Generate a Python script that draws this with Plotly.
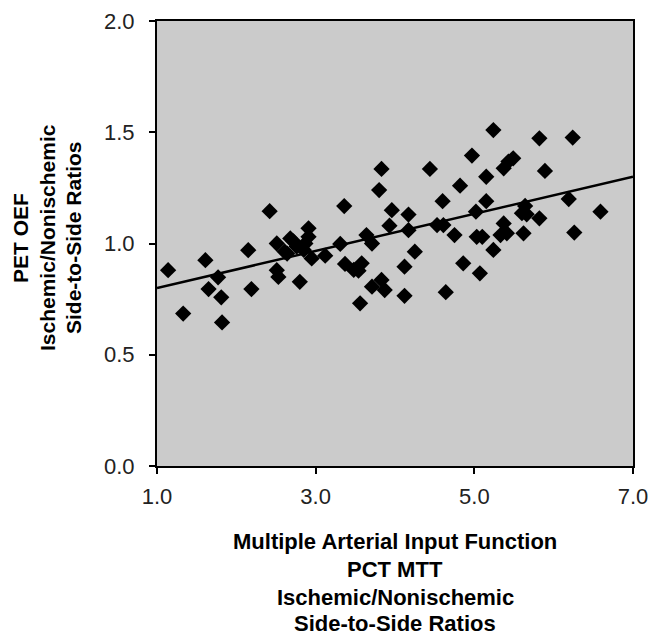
import plotly.graph_objects as go

# Scatter data
mtt_ratio = [1.14, 1.33, 1.61, 1.65, 1.77, 1.81, 1.82, 2.15, 2.19, 2.42,
             2.51, 2.51, 2.53, 2.61, 2.68, 2.64, 2.76, 2.72, 2.80, 2.85,
             2.91, 2.91, 2.87, 2.95, 3.12, 3.31, 3.36, 3.37, 3.48, 3.58,
             3.54, 3.56, 3.64, 3.71, 3.71, 3.80, 3.83, 3.83, 3.87, 3.93,
             3.96, 4.12, 4.12, 4.17, 4.17, 4.25, 4.44, 4.53, 4.61, 4.60,
             4.64, 4.75, 4.82, 4.86, 4.97, 5.02, 5.03, 5.07, 5.10, 5.15,
             5.15, 5.24, 5.24, 5.33, 5.37, 5.41, 5.37, 5.43, 5.49, 5.62,
             5.60, 5.64, 5.66, 5.82, 5.82, 5.89, 6.19, 6.24, 6.26, 6.59]
oef_ratio = [0.880, 0.685, 0.925, 0.795, 0.848, 0.758, 0.645, 0.970, 0.795, 1.145,
             1.000, 0.880, 0.850, 0.963, 1.023, 0.955, 0.986, 1.010, 0.828, 0.971,
             1.068, 1.030, 1.000, 0.933, 0.945, 0.998, 1.168, 0.908, 0.881, 0.911,
             0.878, 0.731, 1.038, 1.000, 0.806, 1.240, 1.335, 0.836, 0.791, 1.080,
             1.150, 0.896, 0.765, 1.130, 1.060, 0.963, 1.335, 1.083, 1.083, 1.190,
             0.781, 1.038, 1.260, 0.911, 1.395, 1.143, 1.030, 0.866, 1.030, 1.300,
             1.190, 1.510, 0.971, 1.038, 1.090, 1.046, 1.338, 1.368, 1.383, 1.046,
             1.136, 1.169, 1.131, 1.113, 1.473, 1.326, 1.200, 1.476, 1.049, 1.143]

# Regression line end points
fit_x = [1.0, 7.0]
fit_y = [0.80, 1.30]

x_ticks = [1, 3, 5, 7]
x_tick_labels = ["1.0", "3.0", "5.0", "7.0"]
y_ticks = [0, 0.5, 1.0, 1.5, 2.0]
y_tick_labels = ["0.0", "0.5", "1.0", "1.5", "2.0"]

x_title_lines = ["Multiple Arterial Input Function", "PCT MTT",
                 "Ischemic/Nonischemic", "Side-to-Side Ratios"]
y_title_lines = ["PET OEF", "Ischemic/Nonischemic", "Side-to-Side Ratios"]

fig = go.Figure()
fig.add_trace(go.Scatter(
    x=mtt_ratio, y=oef_ratio, mode="markers",
    marker=dict(symbol="diamond", size=12.5, color="black",
                line=dict(width=0)),
    showlegend=False, hoverinfo="x+y"))
fig.add_trace(go.Scatter(
    x=fit_x, y=fit_y, mode="lines",
    line=dict(color="black", width=2.5),
    showlegend=False, hoverinfo="skip"))

# page body has a default 8px margin, so the figure is 8px smaller
OFF = 8
W, H = 662 - OFF, 636 - OFF
L, T = 157 - OFF, 21 - OFF
pw, ph = 476, 445
R, B = W - L - pw, H - T - ph

FONT = "Liberation Sans, Arial, sans-serif"
axis_common = dict(showline=True, linecolor="black", linewidth=2, mirror=True,
                   showgrid=False, zeroline=False, ticks="outside",
                   tickcolor="black", ticklen=6, tickwidth=1.5,
                   automargin=False,
                   tickfont=dict(family=FONT, size=22, color="#222222"))

fig.update_xaxes(range=[1, 7], tickvals=x_ticks, ticktext=x_tick_labels,
                 ticklabelstandoff=4, **axis_common)
fig.update_yaxes(range=[0, 2], tickvals=y_ticks, ticktext=y_tick_labels,
                 ticklabelstandoff=10, **axis_common)

# title line positions in reference page pixels
x_title_y = [541, 569, 597, 623]
y_title_x = [20, 47, 73]

for line, py in zip(x_title_lines, x_title_y):
    fig.add_annotation(text="<b>" + line + "</b>",
                       xref="paper", yref="paper",
                       x=0.5, y=(466 - py) / ph, xanchor="center", yanchor="middle",
                       showarrow=False, font=dict(family=FONT, size=22, color="black"))
for line, px in zip(y_title_lines, y_title_x):
    fig.add_annotation(text="<b>" + line + "</b>",
                       xref="paper", yref="paper",
                       x=(px - 157) / pw, y=(466 - 238) / ph,
                       xanchor="center", yanchor="middle", textangle=-90,
                       showarrow=False, font=dict(family=FONT, size=21, color="black"))

fig.update_layout(width=W, height=H,
                  margin=dict(l=L, r=R, t=T, b=B, autoexpand=False),
                  plot_bgcolor="#cbcbcb", paper_bgcolor="white",
                  showlegend=False)

fig.write_html("out.html")
